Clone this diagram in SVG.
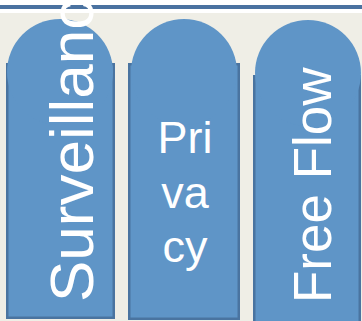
<svg xmlns="http://www.w3.org/2000/svg" width="362" height="321" viewBox="0 0 362 321">
<style>
.body{fill:#5F95C7;stroke:#4A74A0;stroke-width:2.5}
.dome{fill:#5F95C7}
.lbl{fill:#FFFFFF;font-family:"Liberation Sans",Arial,sans-serif}
</style>
<rect x="0" y="0" width="362" height="321" fill="#EFEEE6"/>
<rect x="0" y="0" width="362" height="13" fill="#FFFFFF"/>
<rect x="0" y="5" width="362" height="4" fill="#4A72A0"/>
<g id="surveillance">
<rect class="body" x="7.25" y="64.25" width="106.5" height="253.5"/>
<circle class="dome" cx="60" cy="72" r="53"/>
<text class="lbl" font-size="62" transform="translate(93,302) rotate(-90)">Surveillance</text>
</g>
<g id="privacy">
<rect class="body" x="129.25" y="64.25" width="109.5" height="254.5"/>
<circle class="dome" cx="184" cy="72" r="53"/>
<text class="lbl" font-size="45" text-anchor="middle"><tspan x="185" y="153">Pri</tspan><tspan x="185" y="207.5">va</tspan><tspan x="185" y="262">cy</tspan></text>
</g>
<g id="free-flow">
<rect class="body" x="254.25" y="76.25" width="105.5" height="250"/>
<circle class="dome" cx="308" cy="73" r="53"/>
<text class="lbl" font-size="53" transform="translate(331,303) rotate(-90)">Free Flow</text>
</g>
</svg>
